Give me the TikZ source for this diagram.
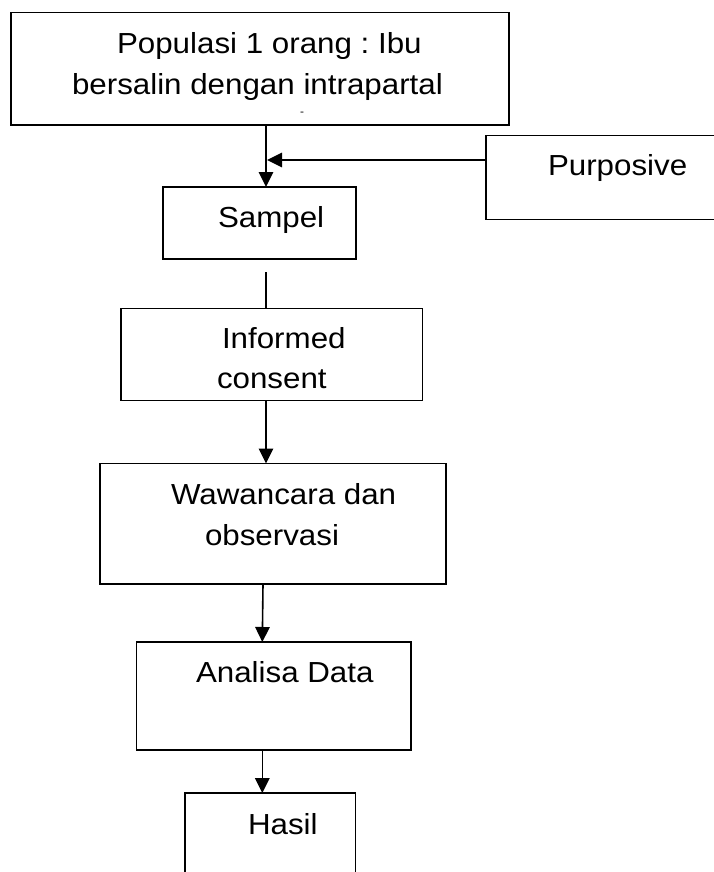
\documentclass[tikz,border=0pt]{standalone}
\usepackage{fontspec}
\setmainfont[FakeStretch=1.08]{Liberation Sans}
\usetikzlibrary{arrows.meta}
\frenchspacing
\begin{document}
\begin{tikzpicture}[x=1pt,y=-1pt,
  box/.style={draw=black, line width=1.6pt, rectangle, inner sep=0pt, outer sep=0pt, anchor=north west},
  txt/.style={anchor=base west, inner sep=0pt, outer sep=0pt, font=\fontsize{29}{34}\selectfont},
  conn/.style={draw=black, line width=1.6pt},
  arr/.style={conn, -{Triangle[length=15pt,width=14.5pt]}}]
\useasboundingbox (0,0) rectangle (714,872);
% boxes
\node[box, minimum width=498pt, minimum height=112.5pt] (top) at (11,12.5) {};
\node[box, minimum width=300pt, minimum height=84pt] (purp) at (486,135.5) {};
\node[box, minimum width=193pt, minimum height=72pt] (sampel) at (163,187) {};
\node[box, minimum width=301.5pt, minimum height=92pt] (informed) at (121,308.5) {};
\node[box, minimum width=346pt, minimum height=120.5pt] (wawan) at (100,463.5) {};
\node[box, minimum width=274.5pt, minimum height=108pt] (analisa) at (136.5,642) {};
\node[box, minimum width=170.5pt, minimum height=120pt] (hasil) at (185,793) {};
% texts
\node[txt] (t1a) at (117,53.3) {Populasi 1 orang : Ibu};
\node[txt] (t1b) at (72,95) {bersalin dengan intrapartal};
\node[anchor=center, inner sep=0pt, font=\fontsize{11}{12}\selectfont] (t1c) at (302,113.5) {-};
\node[txt] (t2) at (548,175) {Purposive};
\node[txt] (t3) at (218,227.7) {Sampel};
\node[txt] (t4a) at (222,348) {Informed};
\node[txt] (t4b) at (217,388) {consent};
\node[txt] (t5a) at (171,504) {Wawancara dan};
\node[txt] (t5b) at (205,545) {observasi};
\node[txt] (t6) at (196,682.3) {Analisa Data};
\node[txt] (t7) at (248,834) {Hasil};
% connectors
\coordinate (cx) at (266,0);
\coordinate (j) at (267,160);
\coordinate (s1) at (266,272);
\coordinate (cw) at (263,0);
\coordinate (ca) at (262.3,0);
\draw[arr] (top.south -| cx) -- (sampel.north -| cx);
\draw[arr] (purp.west |- j) -- (j);
\draw[conn] (s1) -- (informed.north -| s1);
\draw[arr] (informed.south -| cx) -- (wawan.north -| cx);
\draw[arr] (wawan.south -| cw) -- (analisa.north -| ca);
\draw[arr] (analisa.south -| ca) -- (hasil.north -| ca);
\end{tikzpicture}
\end{document}
